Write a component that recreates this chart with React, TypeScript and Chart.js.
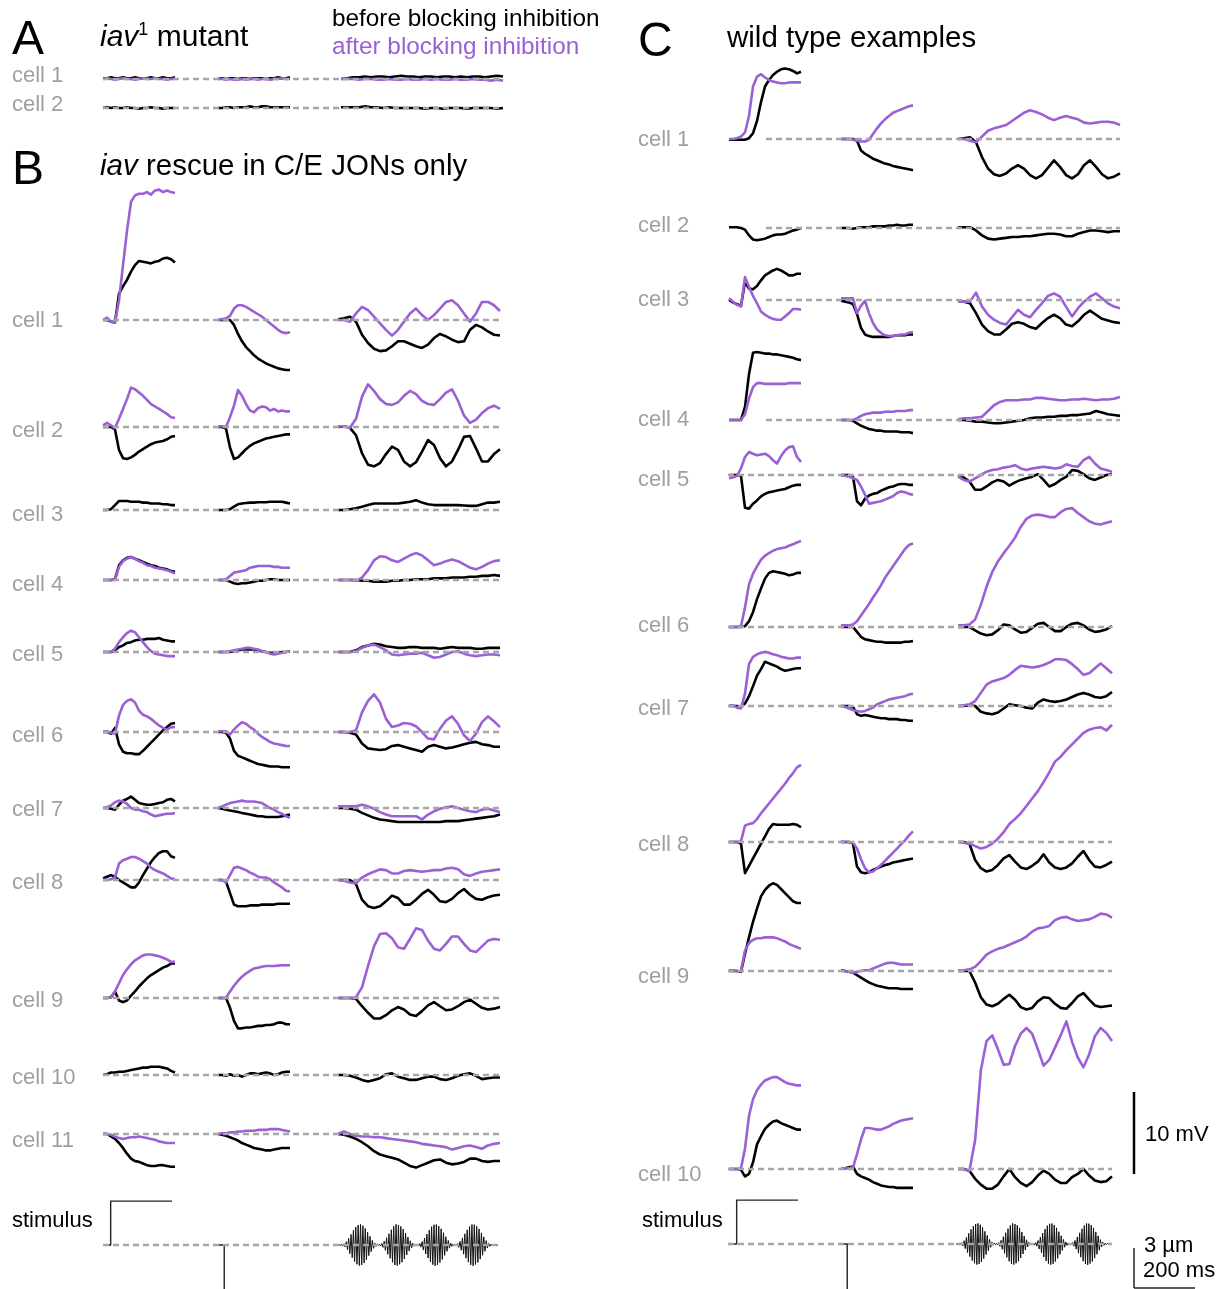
import React, { useEffect, useRef } from "react";
import { Chart, registerables } from "chart.js";

Chart.register(...registerables);

// ---------- page / scale constants ----------
const W = 1227;
const H = 1289;
const PX_PER_MV = 8.2;
const PX_PER_UM = 13.3;
const PX_PER_MS = 0.305;

const BLACK = "#000000";
const PURPLE = "#9b5fd6";
const DASH_GRAY = "#a6a6a6";
const LABEL_GRAY = "#9f9f9f";
const STIM_COLOR = "#222222";
const FONT = '"Liberation Sans", Arial, Helvetica, sans-serif';

// ---------- data (mV, uniform time samples; col1/col2: 19 samples, col3: 28 samples) ----------
// Panel A (iav1 mutant)
const A1_BEFORE = [
  [0.1, 0.1, 0.2, 0.1, 0.1, 0.2, 0.1, 0.1, 0.2, 0.1, 0.1, 0.1, 0.2, 0.1, 0.1, 0.2, 0.1, 0.1, 0.2],
  [0, 0.1, 0, 0.1, 0.1, 0, 0.1, 0.1, 0, 0.1, 0.1, 0.1, 0, 0.1, 0.1, 0.2, 0.1, 0.1, 0.2],
  [0, 0.1, 0.2, 0.2, 0.3, 0.2, 0.3, 0.3, 0.2, 0.3, 0.4, 0.3, 0.3, 0.2, 0.3, 0.3, 0.2, 0.3, 0.3, 0.2, 0.3, 0.2, 0.3, 0.3, 0.2, 0.3, 0.4, 0.3],
];
const A1_AFTER = [
  [0, 0.1, 0, -0.1, 0, 0.1, 0, 0, -0.1, 0, 0.1, 0, 0, 0.1, 0, 0, -0.1, 0, 0],
  [0, 0, -0.1, 0, -0.1, -0.1, 0, -0.1, 0, 0, -0.1, 0, 0, -0.1, 0, 0, 0.1, 0, 0],
  [0, 0, 0, -0.1, 0, 0, -0.1, -0.1, 0, -0.1, -0.1, 0, -0.1, -0.1, 0, -0.1, 0, -0.1, -0.1, 0, -0.1, -0.1, 0, -0.1, -0.1, -0.2, -0.1, -0.2],
];
const A2_BEFORE = [
  [0, 0.1, 0, 0.1, 0, 0, 0.1, 0, 0, -0.1, 0, 0, 0.1, 0, 0, -0.1, 0, 0, 0],
  [0, 0, 0.1, 0.1, 0, 0.1, 0.1, 0.1, 0.2, 0.1, 0.1, 0.2, 0.2, 0.1, 0.1, 0.1, 0.1, 0.1, 0.1],
  [0.1, 0.1, 0.1, 0.1, 0.2, 0.1, 0.1, 0, 0.1, 0, 0, 0, 0, 0, -0.1, 0, 0, -0.1, 0, 0, 0, -0.1, 0, 0, 0, 0, -0.1, 0],
];

// Panel B (iav rescue in C/E JONs only)
const B1_BEFORE = [
  [0, 0, -0.2, -0.3, 3.2, 4.1, 4.9, 5.9, 6.7, 7.2, 7.1, 7.0, 6.9, 7.1, 7.2, 7.5, 7.6, 7.4, 7.0],
  [0, 0, 0, 0, -0.6, -1.7, -2.6, -3.3, -3.8, -4.3, -4.7, -5.0, -5.3, -5.5, -5.7, -5.9, -6.0, -6.1, -6.1],
  [0.1, 0.2, 0.4, -0.2, -1.8, -2.8, -3.5, -3.8, -3.7, -3.2, -2.6, -2.6, -2.9, -3.2, -3.4, -3.0, -2.2, -1.7, -2.0, -2.4, -2.7, -2.6, -1.2, -0.6, -0.9, -1.4, -1.8, -1.9],
];
const B1_AFTER = [
  [0, 0.3, -0.2, -0.3, 2.4, 6.7, 10.9, 14.4, 15.2, 15.4, 15.4, 15.6, 15.3, 15.8, 15.9, 15.6, 15.8, 15.6, 15.5],
  [0, 0.1, 0.2, 0.5, 1.4, 1.8, 1.8, 1.6, 1.3, 1.0, 0.7, 0.4, 0.0, -0.4, -0.8, -1.2, -1.5, -1.6, -1.5],
  [0, 0, -0.2, 0.8, 1.6, 1.2, 0.4, -0.4, -1.2, -1.9, -1.2, -0.2, 0.8, 1.4, 0.6, 0.0, 0.6, 1.4, 2.2, 2.4, 1.8, 0.8, -0.2, 0.8, 2.2, 2.2, 1.8, 1.1],
];
const B2_BEFORE = [
  [0, 0, 0, -0.3, -2.8, -3.8, -3.9, -3.7, -3.4, -3.0, -2.7, -2.4, -2.1, -1.9, -1.8, -1.7, -1.5, -1.2, -1.1],
  [0, 0, -0.2, -2.5, -3.9, -3.7, -3.2, -2.7, -2.3, -2.0, -1.8, -1.6, -1.4, -1.3, -1.2, -1.1, -1.0, -0.9, -0.9],
  [0, 0.1, -0.1, -1.0, -3.2, -4.6, -4.8, -4.4, -3.3, -2.4, -2.8, -4.2, -4.8, -4.3, -3.0, -1.6, -2.2, -3.8, -4.8, -4.2, -2.8, -1.2, -1.1, -2.6, -4.2, -4.2, -3.3, -2.7],
];
const B2_AFTER = [
  [0.2, 0.5, 0.2, -0.1, 1.0, 2.2, 3.4, 4.8, 4.6, 4.2, 3.8, 3.3, 2.8, 2.5, 2.2, 1.9, 1.6, 1.2, 1.1],
  [0.1, 0.1, 0, 1.2, 2.6, 4.5, 3.8, 2.8, 2.0, 1.8, 2.3, 2.5, 2.4, 2.0, 2.2, 1.9, 2.0, 1.9, 1.9],
  [0.1, 0.1, -0.1, 1.0, 3.7, 5.2, 4.4, 3.4, 2.8, 2.7, 3.0, 3.8, 4.4, 4.0, 3.2, 2.8, 2.7, 3.4, 4.2, 4.6, 3.2, 1.4, 0.5, 0.9, 1.7, 2.3, 2.6, 2.2],
];
const B3_BEFORE = [
  [0, 0, 0.1, 0.6, 1.1, 1.1, 1.1, 1.0, 1.0, 1.0, 0.9, 0.9, 0.8, 0.8, 0.8, 0.7, 0.7, 0.6, 0.6],
  [0, 0, 0, 0.1, 0.4, 0.7, 0.8, 0.85, 0.9, 0.9, 0.95, 0.95, 0.95, 1.0, 1.0, 1.0, 1.0, 0.9, 0.8],
  [0, 0, 0.1, 0.2, 0.4, 0.6, 0.8, 0.8, 0.8, 0.8, 0.8, 0.9, 1.0, 1.2, 0.9, 0.7, 0.6, 0.6, 0.6, 0.6, 0.6, 0.55, 0.5, 0.5, 0.7, 0.9, 0.9, 1.0],
];
const B4_BEFORE = [
  [0, 0, 0, 0.1, 1.8, 2.4, 2.7, 2.8, 2.6, 2.4, 2.2, 2.0, 1.8, 1.7, 1.5, 1.4, 1.3, 1.1, 1.0],
  [0, 0, 0, -0.2, -0.4, -0.5, -0.4, -0.4, -0.3, -0.2, -0.1, -0.1, 0, 0.1, 0.1, 0, 0, 0, 0],
  [0, 0, 0, 0, -0.1, -0.1, -0.2, -0.2, -0.2, -0.1, -0.1, 0, 0, 0.1, 0.1, 0.1, 0.2, 0.2, 0.2, 0.3, 0.3, 0.3, 0.4, 0.4, 0.5, 0.5, 0.6, 0.5],
];
const B4_AFTER = [
  [0, 0, 0, 0, 1.6, 2.3, 2.6, 2.8, 2.6, 2.3, 2.1, 1.8, 1.7, 1.5, 1.4, 1.3, 1.2, 1.0, 0.8],
  [0, 0, 0.1, 0.5, 0.9, 1.0, 1.1, 1.2, 1.5, 1.6, 1.7, 1.7, 1.7, 1.7, 1.6, 1.6, 1.5, 1.5, 1.5],
  [0, 0, 0, -0.1, 0.3, 1.2, 2.4, 2.9, 2.8, 2.4, 2.2, 2.6, 3.0, 3.3, 3.0, 2.4, 1.8, 2.0, 2.3, 2.5, 2.3, 1.9, 1.5, 1.3, 1.6, 2.0, 2.3, 2.4],
];
const B5_BEFORE = [
  [0, 0, 0, 0.2, 0.6, 0.8, 1.1, 1.2, 1.4, 1.5, 1.5, 1.6, 1.6, 1.6, 1.7, 1.5, 1.4, 1.3, 1.3],
  [0, 0, 0, 0, 0.1, 0.2, 0.3, 0.3, 0.3, 0.3, 0.2, 0.1, 0, -0.1, -0.1, -0.1, 0, 0, 0.1],
  [0, 0, 0, 0.2, 0.6, 0.8, 1.0, 0.9, 0.7, 0.6, 0.5, 0.5, 0.6, 0.6, 0.5, 0.5, 0.5, 0.4, 0.5, 0.6, 0.5, 0.5, 0.5, 0.4, 0.4, 0.5, 0.5, 0.5],
];
const B5_AFTER = [
  [0, 0, 0, 0.4, 1.2, 1.8, 2.3, 2.6, 2.4, 1.8, 1.2, 0.6, 0.1, -0.2, -0.3, -0.4, -0.5, -0.5, -0.5],
  [0, 0, 0, 0.1, 0.2, 0.3, 0.4, 0.5, 0.5, 0.4, 0.3, 0.1, 0, -0.2, -0.3, -0.2, -0.1, 0, 0.1],
  [0, 0, 0, 0.1, 0.5, 0.8, 0.9, 0.6, 0.2, -0.3, -0.4, -0.3, -0.2, -0.2, -0.1, -0.4, -0.7, -0.6, -0.3, 0.0, 0.1, -0.2, -0.4, -0.5, -0.4, -0.3, -0.3, -0.4],
];
const B6_BEFORE = [
  [0, 0, -0.2, 0.5, -1.5, -2.4, -2.6, -2.6, -2.7, -2.7, -2.3, -1.8, -1.3, -0.8, -0.3, 0.2, 0.6, 1.0, 1.1],
  [0, 0, -0.1, -0.8, -2.3, -2.9, -3.1, -3.3, -3.5, -3.7, -3.9, -4.0, -4.1, -4.2, -4.2, -4.2, -4.3, -4.3, -4.3],
  [0, 0, -0.1, -0.3, -1.4, -2.0, -2.1, -2.2, -2.1, -1.7, -1.6, -1.8, -2.0, -2.2, -2.4, -1.8, -1.6, -1.8, -2.0, -1.9, -1.7, -1.5, -1.3, -1.2, -1.5, -1.6, -1.8, -1.8],
];
const B6_AFTER = [
  [0.1, 0.1, -0.1, -0.2, 2.0, 3.3, 3.8, 4.0, 3.6, 2.6, 2.1, 1.9, 1.6, 1.2, 0.8, 0.5, 0.3, 0.6, 0.6],
  [0.1, 0.1, 0.1, -0.3, 0.3, 0.8, 1.2, 1.0, 0.6, 0.3, -0.2, -0.6, -0.9, -1.2, -1.4, -1.5, -1.6, -1.7, -1.7],
  [0, 0, 0, 0.2, 2.4, 3.8, 4.6, 3.6, 1.6, 0.6, 0.8, 1.1, 1.0, 0.7, 0.0, -0.8, -0.9, 0.4, 1.4, 1.9, 1.0, -0.4, -1.1, -0.2, 1.2, 1.9, 1.3, 0.6],
];
const B7_BEFORE = [
  [0, 0, -0.1, -0.2, 0.4, 0.9, 1.1, 1.4, 1.0, 0.6, 0.5, 0.4, 0.4, 0.5, 0.6, 0.7, 1.0, 1.1, 0.8],
  [0, -0.1, -0.2, -0.3, -0.4, -0.5, -0.6, -0.7, -0.8, -0.9, -1.0, -1.0, -1.1, -1.1, -1.1, -1.1, -1.0, -0.9, -0.8],
  [0, 0, -0.1, -0.2, -0.6, -0.9, -1.2, -1.4, -1.5, -1.6, -1.7, -1.7, -1.7, -1.7, -1.7, -1.7, -1.7, -1.7, -1.6, -1.6, -1.6, -1.5, -1.4, -1.3, -1.2, -1.1, -1.0, -0.8],
];
const B7_AFTER = [
  [0, 0.1, 0.3, 0.7, 0.9, 0.8, 0.5, 0.0, -0.2, -0.2, -0.4, -0.5, -0.8, -1.0, -0.9, -0.8, -0.7, -0.7, -0.6],
  [0, 0.2, 0.4, 0.6, 0.7, 0.8, 0.9, 0.8, 0.8, 0.8, 0.7, 0.6, 0.3, 0.0, -0.2, -0.5, -0.7, -1.0, -1.2],
  [0.2, 0.2, 0.2, 0.2, 0.4, 0.2, -0.1, -0.5, -0.8, -1.0, -1.0, -1.0, -1.0, -1.0, -1.4, -0.8, -0.4, -0.1, 0.1, 0.2, 0.0, -0.2, -0.4, -0.5, -0.2, -0.1, -0.3, -0.5],
];
const B8_BEFORE = [
  [0.2, 0.4, 0.6, 0.4, 0.0, -0.3, -0.6, -0.9, -0.9, -0.3, 0.6, 1.4, 2.2, 2.8, 3.3, 3.5, 3.5, 2.9, 2.7],
  [0, 0, -0.2, -1.6, -3.0, -3.2, -3.2, -3.2, -3.1, -3.1, -3.1, -3.0, -3.0, -3.0, -3.0, -2.9, -2.9, -2.9, -2.9],
  [0, 0, 0, -0.5, -2.4, -3.2, -3.4, -3.2, -2.6, -1.9, -2.2, -3.0, -3.0, -2.4, -1.7, -1.2, -1.8, -2.6, -2.7, -2.3, -1.6, -1.1, -1.8, -2.3, -2.4, -2.1, -1.9, -1.8],
];
const B8_AFTER = [
  [0, 0, 0.1, 0.3, 2.0, 2.4, 2.6, 2.8, 2.8, 2.6, 2.3, 2.0, 1.5, 1.2, 1.0, 0.8, 0.5, 0.2, 0.1],
  [0, 0, -0.3, 0.6, 1.5, 1.6, 1.4, 1.2, 0.9, 0.7, 0.4, 0.3, 0.3, 0.1, -0.3, -0.6, -0.9, -1.3, -1.4],
  [0, -0.1, -0.3, -0.4, 0.3, 0.7, 1.0, 1.3, 1.2, 0.8, 0.8, 1.1, 1.2, 1.1, 1.0, 1.1, 1.2, 1.2, 1.4, 1.5, 1.3, 0.7, 0.5, 0.8, 1.0, 1.1, 1.2, 1.3],
];
const B9_BEFORE = [
  [0, 0, 0.1, 0.8, -0.3, -0.5, -0.3, 0.3, 0.8, 1.4, 1.9, 2.4, 2.8, 3.1, 3.4, 3.7, 3.9, 4.2, 4.2],
  [0, 0, 0, -1.2, -2.8, -3.7, -3.7, -3.6, -3.6, -3.5, -3.4, -3.4, -3.3, -3.3, -3.2, -3.0, -3.0, -3.2, -3.2],
  [0, 0, 0, -0.1, -1.0, -1.8, -2.5, -2.5, -2.1, -1.5, -1.1, -1.4, -2.0, -2.2, -1.6, -0.9, -0.5, -1.0, -1.5, -1.4, -1.0, -0.5, -0.2, -0.7, -1.2, -1.4, -1.3, -1.1],
];
const B9_AFTER = [
  [0, 0, 0.1, 0.8, 1.8, 2.8, 3.5, 4.1, 4.6, 4.9, 5.2, 5.3, 5.3, 5.2, 5.1, 4.9, 4.7, 4.4, 4.4],
  [0, 0, 0, 0.8, 1.5, 2.1, 2.6, 3.0, 3.3, 3.6, 3.7, 3.8, 3.9, 3.9, 3.9, 3.95, 4.0, 4.0, 4.0],
  [0, 0, 0, 0.1, 1.3, 3.9, 6.3, 7.8, 7.9, 7.3, 6.2, 6.0, 7.2, 8.5, 8.3, 7.0, 6.0, 5.8, 6.6, 7.5, 7.5, 6.6, 5.8, 5.6, 6.3, 7.0, 7.2, 7.1],
];
const B10_BEFORE = [
  [0, 0.1, 0.3, 0.3, 0.4, 0.4, 0.5, 0.6, 0.7, 0.8, 0.9, 0.9, 1.0, 1.0, 1.0, 0.9, 0.8, 0.5, 0.3],
  [0, 0, -0.1, 0.1, -0.1, 0, -0.2, 0, 0.2, 0.2, 0.1, 0.2, 0.3, 0.2, 0, 0.1, 0.3, 0.4, 0.4],
  [0, 0, -0.1, -0.3, -0.6, -0.8, -0.6, -0.4, 0.1, 0.2, -0.2, -0.4, -0.6, -0.6, -0.4, -0.2, -0.2, -0.5, -0.6, -0.4, -0.1, 0.1, 0.2, -0.1, -0.5, -0.4, -0.3, -0.3],
];
const B11_BEFORE = [
  [0, 0, -0.3, -0.6, -1.1, -1.7, -2.4, -3.0, -3.3, -3.4, -3.6, -3.8, -3.9, -3.9, -3.8, -3.8, -3.9, -4.0, -4.0],
  [0, -0.1, -0.2, -0.4, -0.6, -0.8, -1.1, -1.3, -1.5, -1.7, -1.8, -1.9, -2.0, -2.0, -1.9, -1.8, -1.7, -1.7, -1.7],
  [0, -0.1, -0.3, -0.6, -1.0, -1.5, -2.1, -2.5, -2.7, -2.9, -3.1, -3.5, -3.9, -4.1, -3.8, -3.5, -3.2, -3.1, -3.5, -3.7, -3.6, -3.4, -3.0, -3.0, -3.3, -3.4, -3.3, -3.3],
];
const B11_AFTER = [
  [0.1, 0, -0.1, -0.3, -0.5, -0.6, -0.5, -0.4, -0.4, -0.3, -0.4, -0.5, -0.6, -0.7, -0.9, -1.0, -1.1, -1.1, -1.1],
  [0, 0.1, 0.1, 0.2, 0.2, 0.3, 0.3, 0.4, 0.4, 0.4, 0.5, 0.5, 0.5, 0.6, 0.6, 0.6, 0.5, 0.4, 0.3],
  [0, 0.3, 0.0, -0.2, -0.3, -0.3, -0.4, -0.4, -0.5, -0.6, -0.7, -0.8, -0.9, -1.0, -1.2, -1.3, -1.4, -1.5, -1.6, -1.9, -1.7, -1.5, -1.4, -1.6, -1.8, -1.4, -1.2, -1.1],
];

// Panel C (wild type examples)
const C1_BEFORE = [
  [-0.1, -0.1, -0.1, -0.1, -0.1, 0.1, 0.7, 2.2, 4.5, 6.4, 7.2, 7.8, 8.2, 8.5, 8.6, 8.5, 8.3, 8.0, 8.2],
  [0, 0, 0, 0, -0.2, -1.4, -1.8, -2.1, -2.4, -2.6, -2.8, -3.0, -3.1, -3.3, -3.4, -3.5, -3.6, -3.7, -3.8],
  [0, 0.1, 0.2, -0.4, -2.2, -3.6, -4.3, -4.5, -4.2, -3.6, -3.2, -3.6, -4.4, -4.8, -4.4, -3.5, -2.6, -3.4, -4.4, -4.8, -4.3, -3.2, -2.6, -3.4, -4.3, -4.8, -4.6, -4.2],
];
const C1_AFTER = [
  [0, 0, 0.1, 0.3, 0.8, 2.8, 6.4, 7.6, 7.9, 7.5, 7.2, 7.0, 6.9, 6.8, 6.8, 6.9, 6.9, 6.9, 6.9],
  [0, 0, 0, -0.1, -0.2, -0.3, -0.3, -0.1, 0.6, 1.3, 1.9, 2.4, 2.8, 3.2, 3.4, 3.6, 3.8, 4.0, 4.1],
  [0, 0, -0.2, -0.4, 0.3, 1.0, 1.3, 1.5, 1.7, 2.2, 2.7, 3.2, 3.5, 3.3, 3.0, 2.6, 2.3, 2.6, 2.8, 2.6, 2.4, 2.0, 1.9, 2.0, 2.1, 2.1, 2.0, 1.7],
];
const C2_BEFORE = [
  [0.1, 0.1, 0.1, 0.0, -0.2, -0.9, -1.4, -1.5, -1.4, -1.3, -1.1, -0.9, -0.8, -0.8, -0.7, -0.5, -0.3, -0.2, 0.0],
  [0, 0, 0, -0.1, 0, 0.1, 0.1, 0.1, 0.2, 0.2, 0.2, 0.2, 0.3, 0.3, 0.4, 0.3, 0.3, 0.4, 0.4],
  [0.1, 0.1, 0.1, -0.3, -0.9, -1.3, -1.4, -1.3, -1.2, -1.1, -1.1, -1.0, -1.0, -0.9, -0.8, -0.7, -0.7, -0.8, -1.0, -1.0, -0.7, -0.5, -0.3, -0.3, -0.4, -0.5, -0.4, -0.4],
];
const C3_BEFORE = [
  [0, -0.3, -0.5, -0.7, 2.2, 1.4, 1.3, 1.7, 2.4, 3.0, 3.3, 3.6, 3.8, 3.6, 3.3, 3.0, 3.0, 3.2, 3.2],
  [-0.1, -0.2, -0.3, -0.5, -1.7, -3.4, -4.2, -4.4, -4.5, -4.5, -4.5, -4.5, -4.5, -4.4, -4.3, -4.3, -4.3, -4.2, -4.2],
  [-0.2, -0.2, -0.4, -1.6, -3.0, -3.8, -4.2, -4.2, -3.6, -2.9, -2.7, -2.9, -3.3, -3.5, -2.8, -2.2, -1.8, -2.2, -3.0, -3.2, -2.6, -1.8, -1.3, -1.8, -2.3, -2.5, -2.7, -2.8],
];
const C3_AFTER = [
  [0.2, -0.2, -0.6, -0.8, 2.8, 1.6, 0.5, -0.4, -1.4, -1.8, -2.1, -2.3, -2.4, -2.4, -2.0, -1.6, -1.1, -1.1, -1.2],
  [0.2, 0.2, 0.2, 0.2, -1.6, -0.7, -0.1, -1.6, -2.8, -3.6, -4.0, -4.3, -4.4, -4.4, -4.3, -4.2, -4.2, -4.0, -3.9],
  [-0.2, -0.2, -0.2, 0.9, -0.8, -1.8, -2.4, -2.8, -3.0, -2.1, -1.2, -1.8, -2.1, -1.2, -0.4, 0.5, 0.8, 0.4, -0.8, -2.0, -1.0, -0.2, 0.4, 0.8, 0.2, -0.4, -0.8, -1.0],
];
const C4_BEFORE = [
  [0, 0, 0, 0, 1.6, 5.6, 8.2, 8.3, 8.2, 8.1, 8.1, 8.0, 8.0, 7.9, 7.8, 7.7, 7.6, 7.4, 7.3],
  [0, 0, 0, -0.1, -0.4, -0.7, -0.9, -1.1, -1.2, -1.3, -1.3, -1.4, -1.4, -1.4, -1.4, -1.5, -1.5, -1.5, -1.6],
  [0, 0, -0.1, -0.2, -0.2, -0.3, -0.4, -0.4, -0.3, -0.2, -0.1, 0.0, 0.2, 0.3, 0.3, 0.4, 0.4, 0.5, 0.5, 0.6, 0.6, 0.7, 0.8, 1.1, 0.9, 0.7, 0.6, 0.5],
];
const C4_AFTER = [
  [0, 0, 0, 0, 0.7, 2.6, 4.0, 4.5, 4.5, 4.4, 4.4, 4.4, 4.4, 4.4, 4.4, 4.5, 4.5, 4.5, 4.5],
  [0, 0, 0, 0, 0.2, 0.5, 0.7, 0.8, 0.9, 0.9, 0.9, 1.0, 1.0, 1.0, 1.1, 1.1, 1.1, 1.2, 1.2],
  [0.1, 0.2, 0.2, 0.3, 0.4, 1.1, 1.8, 2.2, 2.4, 2.4, 2.4, 2.5, 2.5, 2.7, 2.7, 2.6, 2.5, 2.4, 2.4, 2.5, 2.5, 2.6, 2.5, 2.4, 2.5, 2.5, 2.6, 2.8],
];
const C5_BEFORE = [
  [0, 0, 0, -0.1, -4.0, -4.1, -3.5, -3.1, -2.6, -2.3, -2.1, -2.0, -1.9, -1.8, -1.7, -1.5, -1.3, -1.2, -1.2],
  [0, 0, 0, -0.2, -3.2, -3.7, -2.9, -2.5, -2.3, -2.2, -1.9, -1.7, -1.5, -1.4, -1.2, -1.1, -1.1, -1.2, -1.2],
  [0, -0.3, -0.8, -1.8, -1.8, -1.4, -0.9, -0.6, -0.8, -1.3, -0.9, -0.6, -0.4, -0.2, 0.1, -0.6, -1.4, -1.1, -0.6, -0.2, 0.6, 0.5, 0.1, -0.4, -0.6, -0.3, 0.0, 0.1],
];
const C5_AFTER = [
  [-0.4, -0.3, -0.1, 0.8, 2.2, 2.8, 2.6, 2.4, 2.5, 2.6, 2.3, 1.8, 1.4, 2.3, 3.0, 3.4, 3.5, 2.2, 1.6],
  [-0.1, -0.1, -0.2, -0.4, -0.6, -1.4, -2.4, -3.5, -3.4, -3.3, -3.2, -3.0, -2.8, -2.6, -2.2, -2.0, -2.1, -2.3, -2.4],
  [-0.2, -0.6, -0.8, -0.4, 0.0, 0.4, 0.6, 0.7, 0.9, 1.0, 1.2, 0.8, 0.6, 0.8, 0.9, 1.0, 0.9, 0.8, 0.9, 1.3, 1.1, 1.0, 1.8, 2.2, 1.4, 0.8, 0.6, 0.4],
];
const C6_BEFORE = [
  [0, 0, 0, 0, 0.1, 0.7, 1.8, 3.4, 4.7, 5.9, 6.6, 6.8, 6.7, 6.6, 6.5, 6.3, 6.4, 6.6, 6.6],
  [0, 0, 0, 0, -0.6, -1.2, -1.5, -1.6, -1.7, -1.8, -1.8, -1.9, -1.9, -1.9, -1.9, -1.9, -1.8, -1.8, -1.7],
  [0, 0, 0, -0.4, -0.8, -1.0, -0.9, -0.4, 0.3, 0.2, -0.3, -0.7, -0.6, -0.1, 0.4, 0.5, 0.0, -0.5, -0.5, 0.0, 0.4, 0.5, 0.2, -0.3, -0.6, -0.5, -0.3, 0.1],
];
const C6_AFTER = [
  [0, 0, 0, 0.1, 2.4, 5.2, 6.5, 7.4, 8.2, 8.7, 9.0, 9.3, 9.5, 9.6, 9.7, 9.9, 10.1, 10.3, 10.5],
  [0.2, 0.2, 0.2, 0.3, 0.7, 1.4, 2.1, 2.8, 3.6, 4.3, 5.1, 6.0, 6.7, 7.4, 8.1, 8.8, 9.5, 10.0, 10.2],
  [0.2, 0.2, 0.3, 0.9, 2.7, 4.9, 6.7, 8.0, 9.0, 9.9, 10.9, 12.2, 13.2, 13.6, 13.7, 13.6, 13.4, 13.4, 14.0, 14.4, 14.5, 13.9, 13.4, 12.9, 12.6, 12.5, 12.7, 12.9],
];
const C7_BEFORE = [
  [0, 0, 0, -0.1, 0.3, 1.2, 2.4, 3.7, 4.5, 5.4, 5.2, 5.0, 4.8, 4.5, 4.3, 4.4, 4.5, 4.6, 4.6],
  [0, 0, 0, -0.1, -1.0, -1.2, -1.1, -1.2, -1.3, -1.4, -1.5, -1.5, -1.6, -1.6, -1.6, -1.7, -1.7, -1.8, -1.8],
  [0, 0, 0.1, 0, -0.7, -0.9, -1.0, -0.8, -0.3, 0.2, 0.1, 0, -0.2, -0.3, 0.4, 0.8, 0.6, 0.5, 0.6, 0.8, 1.1, 1.4, 1.6, 1.4, 1.1, 1.0, 1.2, 1.7],
];
const C7_AFTER = [
  [0.1, 0.1, -0.2, -0.3, 1.5, 5.1, 6.0, 6.3, 6.5, 6.6, 6.5, 6.3, 6.2, 6.0, 5.9, 5.8, 5.8, 5.9, 5.9],
  [0, -0.1, -0.3, -0.5, -0.6, -0.7, -0.6, -0.4, -0.2, 0.2, 0.4, 0.6, 0.8, 0.9, 1.0, 1.1, 1.2, 1.4, 1.5],
  [0, 0.1, 0.2, 0.6, 1.6, 2.6, 3.0, 3.2, 3.4, 3.8, 4.4, 4.9, 4.8, 4.7, 4.8, 5.0, 5.3, 5.7, 5.7, 5.6, 5.1, 4.5, 3.8, 4.0, 4.6, 5.2, 4.6, 4.0],
];
const C8_BEFORE = [
  [0, 0, 0, -0.2, -3.8, -2.9, -2.0, -1.1, -0.2, 0.7, 1.6, 2.2, 2.1, 2.1, 2.1, 2.1, 2.2, 2.1, 1.8],
  [0, 0, 0, -0.2, -3.0, -3.7, -3.8, -3.7, -3.4, -3.2, -3.0, -2.8, -2.7, -2.5, -2.4, -2.3, -2.2, -2.1, -2.0],
  [0, 0, -0.2, -2.2, -3.2, -3.6, -3.4, -2.8, -2.0, -1.6, -2.4, -3.1, -3.3, -2.9, -2.4, -1.5, -2.5, -3.1, -3.3, -3.1, -2.6, -1.8, -1.1, -2.2, -3.0, -3.1, -2.8, -2.4],
];
const C8_AFTER = [
  [0, 0, 0, 0.1, 2.0, 2.2, 2.3, 2.8, 3.5, 4.1, 4.7, 5.3, 5.9, 6.5, 7.1, 7.8, 8.4, 9.1, 9.4],
  [0.1, 0, 0, -0.1, -0.8, -2.1, -3.2, -3.7, -3.6, -3.2, -2.8, -2.3, -1.8, -1.3, -0.8, -0.3, 0.2, 0.8, 1.3],
  [0, -0.1, -0.2, -0.5, -0.8, -0.6, -0.2, 0.4, 1.2, 2.2, 2.8, 3.5, 4.4, 5.3, 6.2, 7.3, 8.5, 9.8, 10.4, 11.2, 11.9, 12.6, 13.3, 13.7, 13.9, 14.0, 13.6, 14.3],
];
const C9_BEFORE = [
  [0, 0, 0, -0.1, 2.1, 4.1, 6.0, 7.6, 9.1, 9.9, 10.4, 10.7, 10.5, 10.0, 9.5, 9.0, 8.5, 8.3, 8.3],
  [0.1, 0, -0.1, -0.2, -0.5, -0.8, -1.1, -1.4, -1.6, -1.8, -1.9, -2.0, -2.1, -2.1, -2.1, -2.2, -2.2, -2.2, -2.2],
  [0, 0, 0, -1.4, -3.2, -4.1, -4.3, -4.0, -3.4, -2.9, -3.5, -4.4, -4.7, -4.5, -3.7, -3.2, -3.3, -4.0, -4.5, -4.6, -3.9, -3.1, -2.7, -3.5, -4.2, -4.4, -4.3, -4.2],
];
const C9_AFTER = [
  [0.1, 0.1, 0, 0, 2.5, 3.4, 3.8, 4.0, 4.0, 4.1, 4.1, 4.1, 4.0, 3.8, 3.6, 3.3, 3.1, 2.9, 2.7],
  [0, 0, -0.1, -0.2, -0.1, 0, 0.1, 0.1, 0.3, 0.5, 0.7, 0.9, 1.0, 1.0, 0.9, 0.8, 0.8, 0.8, 0.8],
  [0.1, 0.1, 0.2, 0.5, 1.2, 2.0, 2.4, 2.7, 2.9, 3.2, 3.5, 3.8, 4.2, 4.8, 5.2, 5.3, 5.5, 6.2, 6.5, 6.6, 6.3, 6.1, 6.2, 6.3, 6.6, 7.0, 6.9, 6.5],
];
const C10_BEFORE = [
  [0, 0, 0, -0.1, -0.9, -0.6, 0.8, 3.0, 4.0, 4.9, 5.4, 5.8, 5.9, 5.6, 5.4, 5.2, 5.0, 4.8, 4.8],
  [0.1, 0.1, 0.2, 0.3, -0.6, -0.9, -1.1, -1.3, -1.6, -1.8, -2.0, -2.1, -2.2, -2.2, -2.3, -2.3, -2.3, -2.3, -2.3],
  [0, 0, -0.2, -1.2, -1.9, -2.4, -2.4, -1.9, -0.9, 0.0, -1.0, -1.7, -2.1, -1.6, -0.8, -0.2, -0.6, -1.3, -1.7, -1.7, -1.0, -0.6, 0.0, -0.8, -1.4, -1.6, -1.5, -0.9],
];
const C10_AFTER = [
  [0, 0, 0, 0.1, 2.5, 6.5, 8.5, 9.6, 10.3, 10.8, 11.0, 11.2, 11.2, 10.9, 10.6, 10.4, 10.3, 10.2, 10.2],
  [0.1, 0.1, 0.1, 0.2, 1.8, 3.6, 5.0, 5.0, 4.9, 4.8, 4.8, 5.0, 5.2, 5.5, 5.7, 5.9, 6.0, 6.1, 6.2],
  [0, 0, -0.2, 3.5, 12.0, 15.6, 16.3, 14.6, 12.7, 12.8, 15.0, 16.5, 17.2, 16.5, 14.6, 12.6, 13.3, 14.8, 16.3, 18.0, 15.5, 13.6, 12.4, 14.0, 16.2, 17.2, 16.6, 15.6],
];

// Stimulus (µm): step, pull, and beating sinusoid (successive half-cycle extremes)
const STIM_STEP = [0, 0, 3.3, 3.3, 3.3, 3.3, 3.3, 3.3, 3.3, 3.3, 3.3, 3.3, 3.3, 3.3, 3.3, 3.3, 3.3, 3.3, 3.3];
const STIM_PULL = [0, 0, -8, -8, -8, -8, -8, -8, -8, -8, -8, -8, -8, -8, -8, -8, -8, -8, -8];
const STIM_SINE = [
  0, 0, 0,
  0.05, -0.08, 0.1, -0.15, 0.25, -0.35, 0.5, -0.65, 0.8, -0.95, 1.1, -1.25, 1.35, -1.45, 1.5, -1.55,
  1.55, -1.5, 1.45, -1.35, 1.25, -1.1, 0.95, -0.8, 0.65, -0.5, 0.35, -0.25, 0.15, -0.1, 0.08, -0.05,
  0.04, -0.07, 0.12, -0.18, 0.28, -0.4, 0.55, -0.7, 0.85, -1.0, 1.15, -1.3, 1.4, -1.5, 1.55, -1.55,
  1.5, -1.45, 1.4, -1.3, 1.2, -1.05, 0.9, -0.75, 0.6, -0.45, 0.32, -0.22, 0.14, -0.09, 0.06, -0.04,
  0.05, -0.08, 0.11, -0.16, 0.26, -0.38, 0.52, -0.68, 0.82, -0.98, 1.12, -1.28, 1.38, -1.48, 1.52, -1.56,
  1.54, -1.48, 1.42, -1.32, 1.22, -1.08, 0.92, -0.78, 0.62, -0.48, 0.34, -0.24, 0.15, -0.1, 0.07, -0.05,
  0.05, -0.07, 0.12, -0.17, 0.27, -0.39, 0.53, -0.69, 0.84, -0.99, 1.14, -1.29, 1.39, -1.49, 1.54, -1.57,
  1.53, -1.47, 1.41, -1.31, 1.21, -1.06, 0.91, -0.77, 0.61, -0.47, 0.33, -0.23, 0.15, -0.1, 0.06, -0.04,
  0.05, -0.05, 0.04, -0.03, 0,
];

// Scale bar values
const SCALE_MV = 10;
const SCALE_UM = 3;
const SCALE_MS = 200;

// Row labels
const A_LABELS = ["cell 1", "cell 2"];
const B_LABELS = ["cell 1", "cell 2", "cell 3", "cell 4", "cell 5", "cell 6", "cell 7", "cell 8", "cell 9", "cell 10", "cell 11"];
const C_LABELS = ["cell 1", "cell 2", "cell 3", "cell 4", "cell 5", "cell 6", "cell 7", "cell 8", "cell 9", "cell 10"];

// ---------- layout (page pixels) ----------
const A_ROWS = [
  { base: 79, before: A1_BEFORE, after: A1_AFTER, labelY: 83 },
  { base: 108, before: A2_BEFORE, after: null, labelY: 112 },
];
const A_COLS: [number, number][] = [[103, 175], [218, 290], [341, 503]];
const A_DASH: [number, number] = [103, 503];

const B_ROWS = [
  { base: 320, before: B1_BEFORE, after: B1_AFTER, labelY: 328 },
  { base: 427, before: B2_BEFORE, after: B2_AFTER, labelY: 438 },
  { base: 510, before: B3_BEFORE, after: null, labelY: 522 },
  { base: 580, before: B4_BEFORE, after: B4_AFTER, labelY: 592 },
  { base: 652, before: B5_BEFORE, after: B5_AFTER, labelY: 662 },
  { base: 732, before: B6_BEFORE, after: B6_AFTER, labelY: 743 },
  { base: 808, before: B7_BEFORE, after: B7_AFTER, labelY: 817 },
  { base: 880, before: B8_BEFORE, after: B8_AFTER, labelY: 890 },
  { base: 998, before: B9_BEFORE, after: B9_AFTER, labelY: 1008 },
  { base: 1075, before: B10_BEFORE, after: null, labelY: 1085 },
  { base: 1134, before: B11_BEFORE, after: B11_AFTER, labelY: 1148 },
];
const B_COLS: [number, number][] = [[103, 175], [218, 290], [338, 500]];
const B_DASH: [number, number] = [103, 501];
const B_STIM = { base: 1245, dash: [103, 497] as [number, number], sine: [338, 498] as [number, number] };

const C_ROWS = [
  { base: 139, before: C1_BEFORE, after: C1_AFTER, labelY: 147 },
  { base: 228, before: C2_BEFORE, after: null, labelY: 233 },
  { base: 300, before: C3_BEFORE, after: C3_AFTER, labelY: 307 },
  { base: 420, before: C4_BEFORE, after: C4_AFTER, labelY: 427 },
  { base: 475, before: C5_BEFORE, after: C5_AFTER, labelY: 487 },
  { base: 627, before: C6_BEFORE, after: C6_AFTER, labelY: 633 },
  { base: 706, before: C7_BEFORE, after: C7_AFTER, labelY: 716 },
  { base: 842, before: C8_BEFORE, after: C8_AFTER, labelY: 852 },
  { base: 971, before: C9_BEFORE, after: C9_AFTER, labelY: 984 },
  { base: 1169, before: C10_BEFORE, after: C10_AFTER, labelY: 1182 },
];
const C_COLS_TOP: [number, number][] = [[729, 801], [841, 913], [958, 1120]];
const C_COLS_LOW: [number, number][] = [[729, 801], [841, 913], [958, 1112]];
const C_DASH_TOP: [number, number] = [766, 1120];
const C_DASH_LOW: [number, number] = [728, 1112];
const C_STIM = { base: 1244, dash: [728, 1112] as [number, number], sine: [956, 1112] as [number, number] };

const BAR_X = 1134;
const BAR_MV_BOTTOM = 1174;
const BAR_UM_BOTTOM = 1288;

const TRACE_W = 2.6;
const DASH_W = 2.6;

// ---------- helpers ----------
function series(vals: number[], x0: number, x1: number, base: number, scale: number) {
  const n = vals.length;
  return vals.map((v, i) => ({ x: x0 + (i * (x1 - x0)) / (n - 1), y: base - v * scale }));
}

function lineDs(data: { x: number; y: number }[], color: string, width: number, order: number, extra: any = {}) {
  return {
    data,
    borderColor: color,
    backgroundColor: color,
    borderWidth: width,
    pointRadius: 0,
    pointHoverRadius: 0,
    fill: false,
    tension: 0,
    borderJoinStyle: "round",
    borderCapStyle: "butt",
    order,
    ...extra,
  };
}

function dashDs(x0: number, x1: number, base: number) {
  return lineDs(series([0, 0], x0, x1, base, PX_PER_MV), DASH_GRAY, DASH_W, 0, { borderDash: [6, 4] });
}

function buildDatasets() {
  const ds: any[] = [];
  const addRows = (rows: any[], colsFor: (i: number) => [number, number][], dashFor: (i: number) => [number, number]) => {
    rows.forEach((r, i) => {
      const cols = colsFor(i);
      const d = dashFor(i);
      ds.push(dashDs(d[0], d[1], r.base));
      r.before.forEach((vals: number[], c: number) => {
        ds.push(lineDs(series(vals, cols[c][0], cols[c][1], r.base, PX_PER_MV), BLACK, TRACE_W, 2));
      });
      if (r.after) {
        r.after.forEach((vals: number[], c: number) => {
          ds.push(lineDs(series(vals, cols[c][0], cols[c][1], r.base, PX_PER_MV), PURPLE, TRACE_W, 1));
        });
      }
    });
  };
  addRows(A_ROWS, () => A_COLS, () => A_DASH);
  addRows(B_ROWS, () => B_COLS, () => B_DASH);
  addRows(C_ROWS, (i) => (i < 4 ? C_COLS_TOP : C_COLS_LOW), (i) => (i < 4 ? C_DASH_TOP : C_DASH_LOW));

  const addStim = (stim: any, cols: [number, number][]) => {
    ds.push(dashDs(stim.dash[0], stim.dash[1], stim.base));
    ds.push(lineDs(series(STIM_STEP, cols[0][0], cols[0][1] - 3, stim.base, PX_PER_UM), STIM_COLOR, 1.4, 2, { stepped: true }));
    ds.push(lineDs(series(STIM_PULL, cols[1][0] - 2, cols[1][1], stim.base, PX_PER_UM), STIM_COLOR, 1.4, 2, { stepped: true }));
    ds.push(lineDs(series(STIM_SINE, stim.sine[0], stim.sine[1], stim.base, PX_PER_UM), "#111111", 1, 2));
  };
  addStim(B_STIM, B_COLS);
  addStim(C_STIM, C_COLS_LOW);

  // scale bars
  ds.push(lineDs(series([0, SCALE_MV], BAR_X, BAR_X, BAR_MV_BOTTOM, PX_PER_MV), BLACK, 2.5, 0));
  ds.push(lineDs(series([0, SCALE_UM], BAR_X, BAR_X, BAR_UM_BOTTOM, PX_PER_UM), STIM_COLOR, 1.5, 0));
  ds.push(lineDs([{ x: BAR_X, y: BAR_UM_BOTTOM }, { x: BAR_X + SCALE_MS * PX_PER_MS, y: BAR_UM_BOTTOM }], STIM_COLOR, 1.5, 0));
  return ds;
}

// ---------- text ----------
function Txt(props: { x: number; baseline: number; size: number; color?: string; children: any }) {
  const { x, baseline, size, color = "#000", children } = props;
  return (
    <div
      style={{
        position: "absolute",
        left: x,
        top: baseline - 0.8465 * size,
        fontSize: size,
        lineHeight: `${size}px`,
        fontFamily: FONT,
        color,
        whiteSpace: "nowrap",
      }}
    >
      {children}
    </div>
  );
}

export default function App() {
  const ref = useRef<HTMLCanvasElement | null>(null);
  useEffect(() => {
    if (!ref.current) return;
    const chart = new Chart(ref.current, {
      type: "line",
      data: { datasets: buildDatasets() },
      options: {
        animation: false,
        responsive: false,
        devicePixelRatio: 1,
        events: [],
        layout: { padding: 0 },
        plugins: { legend: { display: false }, tooltip: { enabled: false }, title: { display: false } },
        scales: {
          x: { type: "linear", min: 0, max: W, display: false },
          y: { type: "linear", min: 0, max: H, reverse: true, display: false },
        },
      } as any,
    });
    return () => chart.destroy();
  }, []);

  return (
    <div style={{ position: "absolute", left: 0, top: 0, width: W, height: H, overflow: "hidden", background: "#fff" }}>
      <canvas ref={ref} width={W} height={H} style={{ position: "absolute", left: 0, top: 0, width: W, height: H }} />
      <Txt x={12} baseline={55} size={48}>A</Txt>
      <Txt x={100} baseline={46} size={30}>
        <i>iav</i>
        <span style={{ fontSize: "0.6em", position: "relative", top: "-0.6em" }}>1</span> mutant
      </Txt>
      <Txt x={332} baseline={27} size={24.3}>before blocking inhibition</Txt>
      <Txt x={332} baseline={55} size={24.3} color={PURPLE}>after blocking inhibition</Txt>
      {A_ROWS.map((r, i) => (
        <Txt key={"a" + i} x={12} baseline={r.labelY} size={22} color={LABEL_GRAY}>{A_LABELS[i]}</Txt>
      ))}
      <Txt x={12} baseline={185} size={48}>B</Txt>
      <Txt x={100} baseline={175} size={29.5}>
        <i>iav</i> rescue in C/E JONs only
      </Txt>
      {B_ROWS.map((r, i) => (
        <Txt key={"b" + i} x={12} baseline={r.labelY} size={22} color={LABEL_GRAY}>{B_LABELS[i]}</Txt>
      ))}
      <Txt x={12} baseline={1228} size={22}>stimulus</Txt>
      <Txt x={638} baseline={57} size={48}>C</Txt>
      <Txt x={727} baseline={47} size={29.5}>wild type examples</Txt>
      {C_ROWS.map((r, i) => (
        <Txt key={"c" + i} x={638} baseline={r.labelY} size={22} color={LABEL_GRAY}>{C_LABELS[i]}</Txt>
      ))}
      <Txt x={642} baseline={1228} size={22}>stimulus</Txt>
      <Txt x={1145} baseline={1142} size={22}>10 mV</Txt>
      <Txt x={1144} baseline={1253} size={22}>3 µm</Txt>
      <Txt x={1143} baseline={1278} size={22}>200 ms</Txt>
    </div>
  );
}
